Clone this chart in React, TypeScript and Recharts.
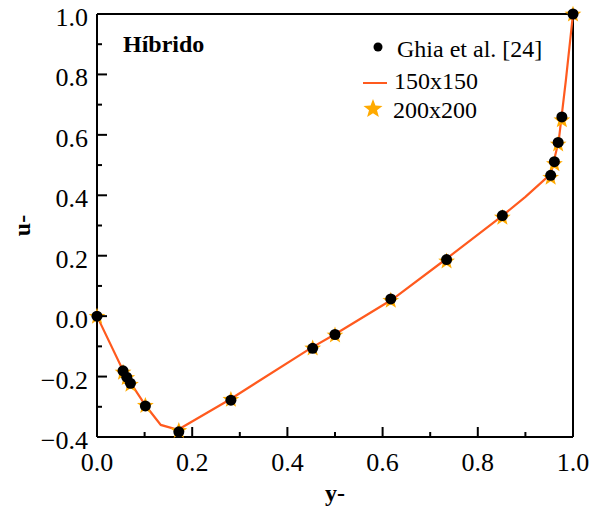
import React from 'react';
import {
    ComposedChart,
    Line,
    Scatter,
    XAxis,
    YAxis,
    ReferenceLine,
    Legend,
} from 'recharts';

// Ghia et al. reference points (vertical centerline)
const ghiaPos = [0, 0.0547, 0.0625, 0.0703, 0.1016, 0.1719, 0.2813, 0.4531, 0.5, 0.6172, 0.7344, 0.8516, 0.9531, 0.9609, 0.9688, 0.9766, 1.0];
const ghiaU = [0, -0.1811, -0.2020, -0.2222, -0.2973, -0.3829, -0.2781, -0.1065, -0.0608, 0.0570, 0.1872, 0.3330, 0.4660, 0.5112, 0.5749, 0.6593, 1.0];

// 150x150 mesh (line)
const linePos = [0, 0.0547, 0.0703, 0.1016, 0.134, 0.17, 0.28, 0.45, 0.5, 0.62, 0.73, 0.85, 0.9, 0.953, 0.97, 0.985, 1.0];
const lineU = [0, -0.18, -0.22, -0.295, -0.36, -0.376, -0.275, -0.105, -0.06, 0.055, 0.185, 0.33, 0.395, 0.47, 0.58, 0.78, 1.0];

// 200x200 mesh (stars)
const starPos = [0, 0.0547, 0.0625, 0.0703, 0.1016, 0.1719, 0.2813, 0.4531, 0.5, 0.6172, 0.7344, 0.8516, 0.9531, 0.9609, 0.9688, 0.9766, 1.0];
const starU = [0, -0.185, -0.203, -0.225, -0.295, -0.378, -0.275, -0.105, -0.062, 0.053, 0.183, 0.328, 0.46, 0.505, 0.57, 0.65, 1.0];

const xTicks = [0, 0.1, 0.2, 0.3, 0.4, 0.5, 0.6, 0.7, 0.8, 0.9, 1.0];
const yTicks = [-0.4, -0.3, -0.2, -0.1, 0, 0.1, 0.2, 0.3, 0.4, 0.5, 0.6, 0.7, 0.8, 0.9, 1.0];

const toRows = (pos: number[], u: number[]) => pos.map((p, i) => ({ pos: p, u: u[i] }));
const ghiaData = toRows(ghiaPos, ghiaU);
const lineData = toRows(linePos, lineU);
const starData = toRows(starPos, starU);

const FONT = '"Liberation Serif", "Times New Roman", serif';
const LINE_COLOR = '#ff5a1e';
const STAR_COLOR = '#ffaa00';

const isMajor = (v: number) => Math.round(v * 10) % 2 === 0;
const fmt = (v: number) => (v < 0 ? '\u2212' + Math.abs(v).toFixed(1) : v.toFixed(1));

const starPoints = (cx: number, cy: number, R: number, r: number) => {
    const pts: string[] = [];
    for (let i = 0; i < 10; i++) {
        const rad = i % 2 === 0 ? R : r;
        const a = -Math.PI / 2 + (i * Math.PI) / 5;
        pts.push(`${cx + rad * Math.cos(a)},${cy + rad * Math.sin(a)}`);
    }
    return pts.join(' ');
};

const XTick = (props: any) => {
    const { x, y, payload } = props;
    const major = isMajor(payload.value);
    return (
        <g>
            <line x1={x} x2={x} y1={y} y2={y - (major ? 10 : 5)} stroke="#000" strokeWidth={2} />
            {major && (
                <text x={x} y={y + 34} textAnchor="middle" fontSize={26} fontFamily={FONT} fill="#000">
                    {fmt(payload.value)}
                </text>
            )}
        </g>
    );
};

const YTick = (props: any) => {
    const { x, y, payload } = props;
    const major = isMajor(payload.value);
    return (
        <g>
            <line x1={x} x2={x + (major ? 10 : 5)} y1={y} y2={y} stroke="#000" strokeWidth={2} />
            {major && (
                <text x={x - 9} y={y + 12} textAnchor="end" fontSize={26} fontFamily={FONT} fill="#000">
                    {fmt(payload.value)}
                </text>
            )}
        </g>
    );
};

const Dot = (props: any) => <circle cx={props.cx} cy={props.cy} r={5.5} fill="#000" />;
const Star = (props: any) => <polygon points={starPoints(props.cx, props.cy + 0.5, 8.8, 3.7)} fill={STAR_COLOR} />;

const renderLegend = () => (
    <svg width={220} height={100} style={{ display: 'block' }}>
        <circle cx={23} cy={22} r={4.5} fill="#000" />
        <text x={42} y={32} fontSize={24} fontFamily={FONT} fill="#000">Ghia et al. [24]</text>
        <line x1={8} x2={32} y1={58} y2={58} stroke={LINE_COLOR} strokeWidth={2} />
        <text x={39} y={64} fontSize={24} fontFamily={FONT} fill="#000">150x150</text>
        <polygon points={starPoints(18, 84, 10, 4.2)} fill={STAR_COLOR} />
        <text x={38} y={93} fontSize={24} fontFamily={FONT} fill="#000">200x200</text>
    </svg>
);

const App: React.FC = () => {
    return (
        <div style={{ position: 'absolute', left: 0, top: 0, fontFamily: FONT }}>
            <ComposedChart width={592} height={510} margin={{ top: 14, right: 19, bottom: 0, left: 0 }}>
                <XAxis
                    dataKey="pos"
                    type="number"
                    domain={[0, 1]}
                    ticks={xTicks}
                    interval={0}
                    height={73}
                    tickSize={0}
                    tickMargin={0}
                    tickLine={false}
                    tick={<XTick />}
                    axisLine={{ stroke: '#000', strokeWidth: 2 }}
                    label={{ value: 'y-', position: 'insideBottom', offset: 9, style: { fontSize: 24, fontWeight: 'bold', fontFamily: FONT, fill: '#000' } }}
                />
                <YAxis
                    dataKey="u"
                    type="number"
                    domain={[-0.4, 1]}
                    ticks={yTicks}
                    interval={0}
                    width={97}
                    tickSize={0}
                    tickMargin={0}
                    tickLine={false}
                    tick={<YTick />}
                    axisLine={{ stroke: '#000', strokeWidth: 2 }}
                    label={{ value: 'u-', angle: -90, position: 'insideLeft', offset: 21, style: { fontSize: 24, fontWeight: 'bold', fontFamily: FONT, fill: '#000', textAnchor: 'middle' } }}
                />
                <ReferenceLine y={1} stroke="#000" strokeWidth={2} />
                <ReferenceLine x={1} stroke="#000" strokeWidth={2} />
                <Scatter data={starData} shape={<Star />} isAnimationActive={false} />
                <Line data={lineData} dataKey="u" stroke={LINE_COLOR} strokeWidth={2.2} dot={false} type="linear" isAnimationActive={false} />
                <Scatter data={ghiaData} shape={<Dot />} isAnimationActive={false} />
                <Legend
                    layout="horizontal"
                    verticalAlign="middle"
                    align="center"
                    content={renderLegend}
                    wrapperStyle={{ left: 355, top: 25, width: 220, height: 100 }}
                />
                <text x={123} y={52} fontSize={24} fontWeight="bold" fontFamily={FONT} fill="#000">Híbrido</text>
            </ComposedChart>
        </div>
    );
};

export default App;
